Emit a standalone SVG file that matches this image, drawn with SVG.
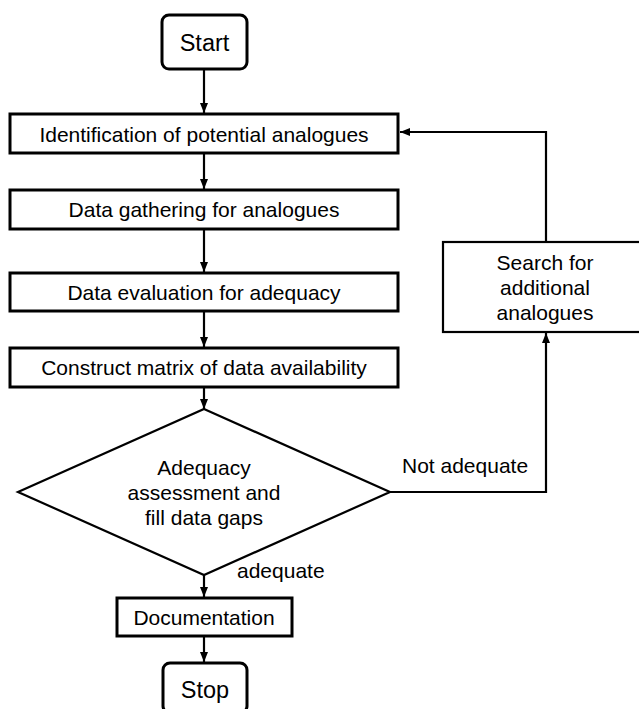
<svg xmlns="http://www.w3.org/2000/svg" width="639" height="709" viewBox="0 0 639 709">
<style>
text{font-family:"Liberation Sans",Arial,sans-serif;font-size:21px;fill:#000;text-anchor:middle}
.term text{font-size:23.5px}
.box{fill:#fff;stroke:#000;stroke-width:3}
.box2{fill:#fff;stroke:#000;stroke-width:2.2}
.edge{fill:none;stroke:#000;stroke-width:2.2}
.lbl{text-anchor:start}
</style>
<defs>
<marker id="ah" markerUnits="userSpaceOnUse" markerWidth="10" markerHeight="10" viewBox="0 0 10 10" refX="10" refY="5" orient="auto">
<path d="M0,1 L10,5 L0,9 Z" fill="#000"/>
</marker>
</defs>
<g id="connectors">
<line class="edge" x1="204" y1="69" x2="204" y2="113" marker-end="url(#ah)"/>
<line class="edge" x1="204" y1="153" x2="204" y2="189" marker-end="url(#ah)"/>
<line class="edge" x1="204" y1="229" x2="204" y2="272" marker-end="url(#ah)"/>
<line class="edge" x1="204" y1="311" x2="204" y2="347" marker-end="url(#ah)"/>
<line class="edge" x1="204" y1="387" x2="204" y2="409" marker-end="url(#ah)"/>
<line class="edge" x1="204" y1="575" x2="204" y2="597" marker-end="url(#ah)"/>
<line class="edge" x1="204" y1="636" x2="204" y2="662" marker-end="url(#ah)"/>
<polyline class="edge" points="390,492 546,492 546,333" marker-end="url(#ah)"/>
<polyline class="edge" points="546,242 546,132 400,132" marker-end="url(#ah)"/>
<text class="lbl" x="402" y="473">Not adequate</text>
<text class="lbl" x="237" y="578">adequate</text>
</g>
<g id="start" class="term">
<rect class="box" x="162" y="15" width="85" height="54" rx="7"/>
<text x="204.5" y="51">Start</text>
</g>
<g id="identification">
<rect class="box" x="10" y="114" width="388" height="39"/>
<text x="204" y="141.5">Identification of potential analogues</text>
</g>
<g id="gathering">
<rect class="box" x="10" y="190" width="388" height="39"/>
<text x="204" y="217">Data gathering for analogues</text>
</g>
<g id="evaluation">
<rect class="box" x="10" y="273" width="388" height="38"/>
<text x="204" y="299.5">Data evaluation for adequacy</text>
</g>
<g id="matrix">
<rect class="box" x="10" y="348" width="388" height="39"/>
<text x="204" y="375">Construct matrix of data availability</text>
</g>
<g id="assessment">
<polygon class="box2" points="204,409 390,492 204,575 18,492"/>
<text x="204" y="475">Adequacy</text>
<text x="204" y="500">assessment and</text>
<text x="204" y="525">fill data gaps</text>
</g>
<g id="search">
<rect class="box2" x="443" y="242" width="206" height="90"/>
<text x="545" y="270">Search for</text>
<text x="545" y="295">additional</text>
<text x="545" y="320">analogues</text>
</g>
<g id="documentation">
<rect class="box" x="117" y="598" width="175" height="38"/>
<text x="204" y="625">Documentation</text>
</g>
<g id="stop" class="term">
<rect class="box" x="163" y="663" width="84" height="50" rx="7"/>
<text x="205" y="698">Stop</text>
</g>
</svg>
